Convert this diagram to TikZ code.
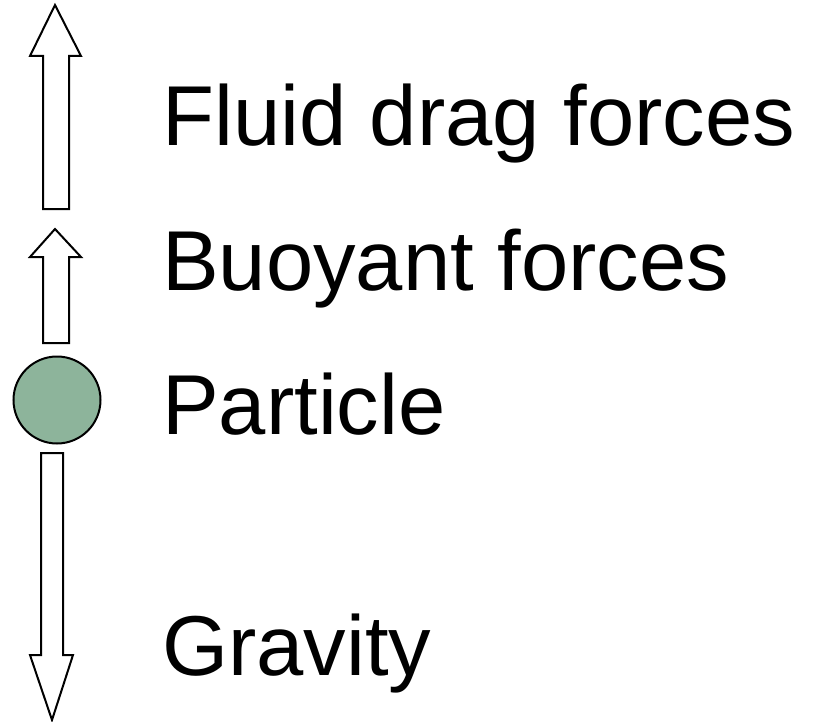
\documentclass[tikz,border=0pt]{standalone}
\usepackage{fontspec}
\setmainfont{Liberation Sans}
\definecolor{particlegreen}{RGB}{141,180,155}
\tikzset{
  forcearrow/.style={draw=black, line width=2pt, fill=white, line join=miter},
  label/.style={anchor=base west, inner sep=0pt, font=\fontsize{85}{100}\selectfont},
  particle/.style={circle, draw=black, line width=2pt, fill=particlegreen, minimum size=87pt, inner sep=0pt}
}
\begin{document}
\begin{tikzpicture}[x=1pt,y=-1pt]
\useasboundingbox (0,0) rectangle (813,722);
% Fluid drag arrow (up)
\draw[forcearrow] (55,5) -- (81,56) -- (69,56) -- (69,209) -- (43,209) -- (43,56) -- (30,56) -- cycle;
% Buoyant arrow (up)
\draw[forcearrow] (55,229) -- (81,257) -- (69,257) -- (69,343) -- (43,343) -- (43,257) -- (30,257) -- cycle;
% Particle
\node[particle] (p) at (57,400) {};
% Gravity arrow (down)
\draw[forcearrow] (52,720) -- (73,655) -- (63,655) -- (63,453) -- (41,453) -- (41,655) -- (30,655) -- cycle;
% Labels
\node[label] (fd) at (162,146) {Fluid drag forces};
\node[label] (bf) at (162,290) {Buoyant forces};
\node[label] (pt) at (162,434) {Particle};
\node[label] (gr) at (162,675) {Gravity};
\end{tikzpicture}
\end{document}
